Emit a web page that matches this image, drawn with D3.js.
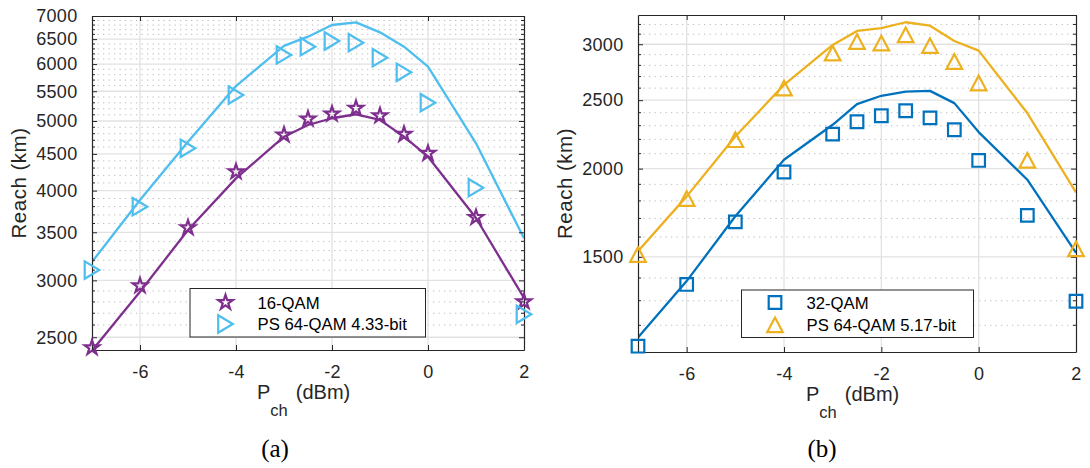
<!DOCTYPE html>
<html>
<head>
<meta charset="utf-8">
<script src="https://cdn.jsdelivr.net/npm/d3@7"></script>
<style>
  html, body { margin: 0; padding: 0; background: #fff; }
  svg { display: block; font-family: "Liberation Sans", Arial, Helvetica, sans-serif; }
</style>
</head>
<body>
<script>
// ---------------- data ----------------
const pch = [-7, -6, -5, -4, -3, -2.5, -2, -1.5, -1, -0.5, 0, 1, 2];
const xTicks = [-6, -4, -2, 0, 2];

// panel (a)
const qam16Meas = [2418, 2949, 3552, 4249, 4780, 5032, 5113, 5207, 5086, 4791, 4508, 3671, 2801];
const qam16Sim  = [2395, 2893, 3525, 4160, 4755, 4936, 5044, 5109, 5016, 4755, 4459, 3664, 2835];
const ps433Meas = [3101, 3799, 4581, 5434, 6178, 6344, 6461, 6426, 6124, 5845, 5302, 4037, 2691];
const ps433Sim  = [3183, 3881, 4679, 5593, 6360, 6551, 6801, 6859, 6643, 6344, 5950, 4655, 3433];
const yTicksA = [2500, 3000, 3500, 4000, 4500, 5000, 5500, 6000, 6500, 7000];
const yDomainA = [2400, 7000];

// panel (b)
const qam32Meas = [1121, 1371, 1681, 1978, 2238, 2330, 2376, 2415, 2360, 2270, 2054, 1717, 1298];
const qam32Sim  = [1153, 1386, 1712, 2059, 2307, 2468, 2536, 2571, 2577, 2476, 2253, 1929, 1520];
const ps517Meas = [1511, 1813, 2197, 2600, 2913, 3025, 3010, 3092, 2986, 2835, 2643, 2054, 1539];
const ps517Sim  = [1528, 1827, 2221, 2628, 2993, 3133, 3161, 3223, 3187, 3032, 2938, 2397, 1851];
const yTicksB = [1500, 2000, 2500, 3000];
const yDomainB = [1100, 3300];

const labelsA = ["16-QAM", "PS 64-QAM 4.33-bit"];
const labelsB = ["32-QAM", "PS 64-QAM 5.17-bit"];

// ---------------- drawing ----------------
const TXT = "#262626";
const svg = d3.select("body").append("svg").attr("width", 1090).attr("height", 468);

function markerPath(type) {
  if (type === "star") return d3.symbol(d3.symbolStar, 66)();
  if (type === "right") return "M-7.3,-8.7L-7.3,8.7L7.3,0Z";
  if (type === "up") return "M-7.8,7.2L7.8,7.2L0,-7.4Z";
  if (type === "square") return "M-6.3,-6.3H6.3V6.3H-6.3Z";
}

function drawPanel(cfg, id) {
  const x = d3.scaleLinear().domain([-7, 2]).range([cfg.left, cfg.right]);
  const y = d3.scaleLog().domain(cfg.yDomain).range([cfg.bottom, cfg.top]);
  const g = svg.append("g");

  g.append("defs").append("clipPath").attr("id", "clip" + id)
    .append("rect").attr("x", cfg.left).attr("y", cfg.top)
    .attr("width", cfg.right - cfg.left).attr("height", cfg.bottom - cfg.top);

  // minor grid (every 100)
  const minor = d3.range(Math.ceil(cfg.yDomain[0] / 100) * 100, cfg.yDomain[1] + 1, 100)
    .filter(v => !cfg.yTicks.includes(v) && v > cfg.yDomain[0] && v < cfg.yDomain[1]);
  g.append("g").selectAll("line").data(minor).join("line")
    .attr("x1", cfg.left).attr("x2", cfg.right)
    .attr("y1", d => y(d)).attr("y2", d => y(d))
    .attr("stroke", "#bdbdbd").attr("stroke-width", 1).attr("stroke-dasharray", "1.3,4.2");

  // major grid
  g.append("g").selectAll("line").data(cfg.yTicks.filter(v => v < cfg.yDomain[1])).join("line")
    .attr("x1", cfg.left).attr("x2", cfg.right)
    .attr("y1", d => y(d)).attr("y2", d => y(d))
    .attr("stroke", "#e2e2e2").attr("stroke-width", 1.3);
  g.append("g").selectAll("line").data(xTicks.filter(v => v < 2)).join("line")
    .attr("x1", d => x(d)).attr("x2", d => x(d))
    .attr("y1", cfg.top).attr("y2", cfg.bottom)
    .attr("stroke", "#e2e2e2").attr("stroke-width", 1.3);

  // simulated lines
  const line = d3.line().x((d, i) => x(pch[i])).y(d => y(d));
  const lg = g.append("g").attr("clip-path", `url(#clip${id})`);
  cfg.series.forEach(s => {
    lg.append("path").datum(s.sim).attr("d", line)
      .attr("fill", "none").attr("stroke", s.color).attr("stroke-width", 2.3)
      .attr("stroke-linejoin", "round");
  });

  // axes
  const axL = d3.axisLeft(y).tickValues(cfg.yTicks).tickFormat(d3.format("d"))
    .tickSizeInner(-5).tickSizeOuter(0).tickPadding(14.5);
  const axR = d3.axisRight(y).tickValues(cfg.yTicks).tickFormat("")
    .tickSizeInner(-5).tickSizeOuter(0);
  const axB = d3.axisBottom(x).tickValues(xTicks).tickFormat(d3.format("d"))
    .tickSizeInner(-5).tickSizeOuter(0).tickPadding(15);
  const axT = d3.axisTop(x).tickValues(xTicks).tickFormat("")
    .tickSizeInner(-5).tickSizeOuter(0);

  const styleAxis = sel => {
    sel.selectAll("path").attr("stroke", TXT).attr("stroke-width", 1.2);
    sel.selectAll("line").attr("stroke", TXT);
    sel.selectAll("text").attr("fill", TXT).attr("font-size", 18).attr("letter-spacing", 0.3)
      .attr("font-family", "'Liberation Sans', Arial, sans-serif");
  };
  g.append("g").attr("transform", `translate(${cfg.left},0)`).call(axL).call(styleAxis);
  g.append("g").attr("transform", `translate(${cfg.right},0)`).call(axR).call(styleAxis);
  const gb = g.append("g").attr("transform", `translate(0,${cfg.bottom})`).call(axB).call(styleAxis);
  gb.selectAll("text").text(d => d < 0 ? "-" + Math.abs(d) : d);
  g.append("g").attr("transform", `translate(0,${cfg.top})`).call(axT).call(styleAxis);

  // minor ticks on left & right axes
  const mt = g.append("g");
  mt.selectAll("line.l").data(minor).join("line").attr("class", "l")
    .attr("x1", cfg.left).attr("x2", cfg.left + 3)
    .attr("y1", d => y(d)).attr("y2", d => y(d)).attr("stroke", TXT);
  mt.selectAll("line.r").data(minor).join("line").attr("class", "r")
    .attr("x1", cfg.right).attr("x2", cfg.right - 3)
    .attr("y1", d => y(d)).attr("y2", d => y(d)).attr("stroke", TXT);

  // markers
  cfg.series.forEach(s => {
    g.append("g").selectAll("path").data(s.meas).join("path")
      .attr("d", markerPath(s.marker))
      .attr("transform", (d, i) => `translate(${x(pch[i])},${y(d)})`)
      .attr("fill", "none").attr("stroke", s.color).attr("stroke-width", 2.2)
      .attr("stroke-linejoin", "miter");
  });

  // axis titles
  const cx = (cfg.left + cfg.right) / 2;
  g.append("text").attr("transform", `translate(${cfg.left - 73},${(cfg.top + cfg.bottom) / 2}) rotate(-90)`)
    .attr("text-anchor", "middle").attr("dy", "0.35em").attr("fill", TXT).attr("font-size", 20.5)
    .attr("letter-spacing", 0.5)
    .text("Reach (km)");
  const xt = g.append("text").attr("x", cx - 51).attr("y", cfg.bottom + 48.5)
    .attr("fill", TXT).attr("font-size", 20);
  xt.append("tspan").text("P");
  xt.append("tspan").attr("font-size", 16.5).attr("dy", 17).text("ch");
  xt.append("tspan").attr("dy", -17).attr("dx", 8).text("(dBm)");

  // legend
  const L = cfg.legend;
  g.append("rect").attr("x", L.x0).attr("y", L.y0).attr("width", L.x1 - L.x0).attr("height", L.y1 - L.y0)
    .attr("fill", "#fff").attr("stroke", TXT).attr("stroke-width", 1);
  cfg.series.forEach((s, i) => {
    const ry = L.rows[i];
    g.append("path").attr("d", markerPath(s.marker))
      .attr("transform", `translate(${L.mx},${ry})`)
      .attr("fill", "none").attr("stroke", s.color).attr("stroke-width", 2.2);
    g.append("text").attr("x", L.tx).attr("y", ry).attr("dy", "0.36em")
      .attr("fill", "#000").attr("font-size", 16.7).text(cfg.labels[i]);
  });

  // caption
  svg.append("text").attr("x", cfg.captionX).attr("y", 457).attr("text-anchor", "middle")
    .attr("font-family", "'Liberation Serif', 'Times New Roman', serif").attr("font-size", 25)
    .attr("fill", "#000").text(cfg.caption);
}

drawPanel({
  left: 92, right: 524, top: 16, bottom: 350,
  yDomain: yDomainA, yTicks: yTicksA,
  series: [
    { meas: qam16Meas, sim: qam16Sim, color: "#7E2F8E", marker: "star" },
    { meas: ps433Meas, sim: ps433Sim, color: "#4DBEEE", marker: "right" }
  ],
  labels: labelsA,
  legend: { x0: 190, y0: 288.5, x1: 425.5, y1: 337, mx: 225.5, tx: 257.5, rows: [302.5, 324] },
  caption: "(a)", captionX: 275
}, "a");

drawPanel({
  left: 638, right: 1076, top: 15, bottom: 352,
  yDomain: yDomainB, yTicks: yTicksB,
  series: [
    { meas: qam32Meas, sim: qam32Sim, color: "#0072BD", marker: "square" },
    { meas: ps517Meas, sim: ps517Sim, color: "#EDB120", marker: "up" }
  ],
  labels: labelsB,
  legend: { x0: 741.5, y0: 290, x1: 973.5, y1: 337.5, mx: 775, tx: 806.5, rows: [302.5, 325] },
  caption: "(b)", captionX: 822
}, "b");
</script>
</body>
</html>
